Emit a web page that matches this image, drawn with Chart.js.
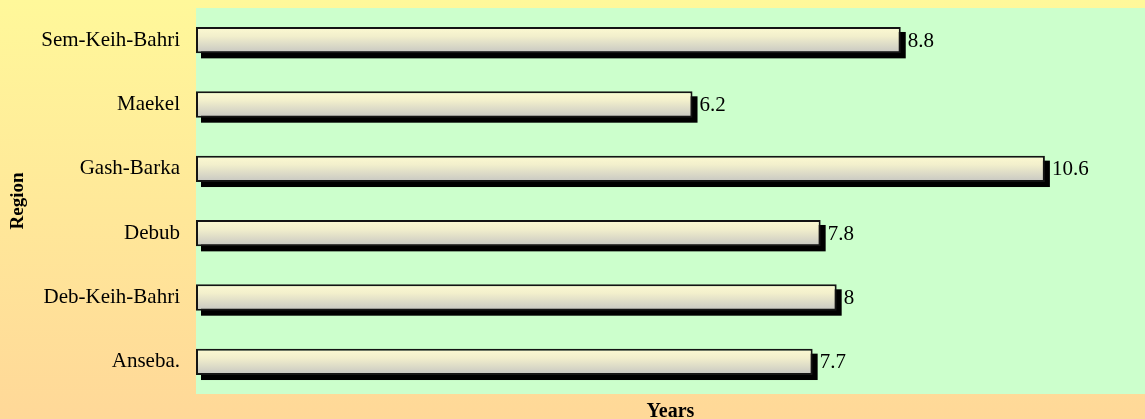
<!DOCTYPE html>
<html>
<head>
<meta charset="utf-8">
<script src="https://cdn.jsdelivr.net/npm/chart.js@4/dist/chart.umd.min.js"></script>
<style>
  html, body { margin: 0; padding: 0; }
  #wrap { width: 1145px; height: 419px; position: relative; }
</style>
</head>
<body>
<div id="wrap"><canvas id="myChart"></canvas></div>
<script>
const regions = ['Sem-Keih-Bahri', 'Maekel', 'Gash-Barka', 'Debub', 'Deb-Keih-Bahri', 'Anseba.']
const years = [8.8, 6.2, 10.6, 7.8, 8, 7.7]
const xMax = 11.85

const serif = '"Liberation Serif", "Times New Roman", serif'

// page background + green plot area
const backdrop = {
  id: 'backdrop',
  beforeDraw(chart) {
    const {ctx, width, height, chartArea} = chart
    ctx.save()
    const g = ctx.createLinearGradient(0, 0, 0, height)
    g.addColorStop(0, '#fff89a')
    g.addColorStop(1, '#ffd898')
    ctx.fillStyle = g
    ctx.fillRect(0, 0, width, height)
    ctx.fillStyle = '#ccffcc'
    ctx.fillRect(chartArea.left, chartArea.top, chartArea.right - chartArea.left, chartArea.bottom - chartArea.top)
    ctx.restore()
  }
}

// black drop shadow behind each bar
const barShadow = {
  id: 'barShadow',
  beforeDatasetsDraw(chart) {
    const {ctx} = chart
    const meta = chart.getDatasetMeta(0)
    ctx.save()
    ctx.fillStyle = '#000'
    meta.data.forEach(bar => {
      const h = bar.height
      ctx.fillRect(bar.base + 5, bar.y - h / 2 + 5, bar.x - bar.base, h)
    })
    ctx.restore()
  }
}

// value text after each bar
const valueLabels = {
  id: 'valueLabels',
  afterDatasetsDraw(chart) {
    const {ctx} = chart
    const meta = chart.getDatasetMeta(0)
    ctx.save()
    ctx.font = '21px ' + serif
    ctx.fillStyle = '#000'
    ctx.textBaseline = 'middle'
    ctx.textAlign = 'left'
    meta.data.forEach((bar, i) => {
      ctx.fillText(String(years[i]), bar.x + 7, bar.y + 1)
    })
    ctx.restore()
  }
}

function barFill(context) {
  const chart = context.chart
  const yScale = chart.scales.y
  if (!chart.chartArea || !yScale) return '#e6e4c8'
  const cy = yScale.getPixelForValue(context.dataIndex)
  const half = yScale.height / regions.length * 0.41 / 2
  const g = chart.ctx.createLinearGradient(0, cy - half, 0, cy + half)
  g.addColorStop(0, '#fdfad2')
  g.addColorStop(0.35, '#f2efcc')
  g.addColorStop(1, '#c6c6c2')
  return g
}

const data = {
  labels: regions,
  datasets: [{
    data: years,
    backgroundColor: barFill,
    borderColor: '#141414',
    borderWidth: 2,
    borderSkipped: false,
    categoryPercentage: 1,
    barPercentage: 0.41
  }]
}

const config = {
  type: 'bar',
  data: data,
  options: {
    indexAxis: 'y',
    responsive: true,
    maintainAspectRatio: false,
    animation: false,
    layout: { padding: { top: 8, left: 0, right: 0, bottom: 0 } },
    plugins: {
      legend: { display: false },
      tooltip: { enabled: false }
    },
    scales: {
      x: {
        min: 0,
        max: xMax,
        grid: { display: false, drawTicks: false },
        border: { display: false },
        ticks: { display: false },
        title: {
          display: true,
          text: 'Years',
          color: '#000',
          font: { family: serif, size: 20, weight: 'bold', lineHeight: 0.7 },
          padding: { top: 0, bottom: 0 }
        },
        afterFit(scale) {
          scale.height = 25
          scale.paddingLeft = 0
          scale.paddingRight = 0
        }
      },
      y: {
        grid: { display: false, drawTicks: false },
        border: { display: false },
        ticks: {
          color: '#000',
          padding: 16,
          font: { family: serif, size: 21 }
        },
        title: {
          display: true,
          text: 'Region',
          color: '#000',
          font: { family: serif, size: 19, weight: 'bold', lineHeight: 1.2 },
          padding: { top: 7, bottom: 0 }
        },
        afterFit(scale) {
          scale.width = 196
          scale.paddingTop = 0
          scale.paddingBottom = 0
        }
      }
    }
  },
  plugins: [backdrop, barShadow, valueLabels]
}

const myChart = new Chart(document.getElementById('myChart'), config)
</script>
</body>
</html>
